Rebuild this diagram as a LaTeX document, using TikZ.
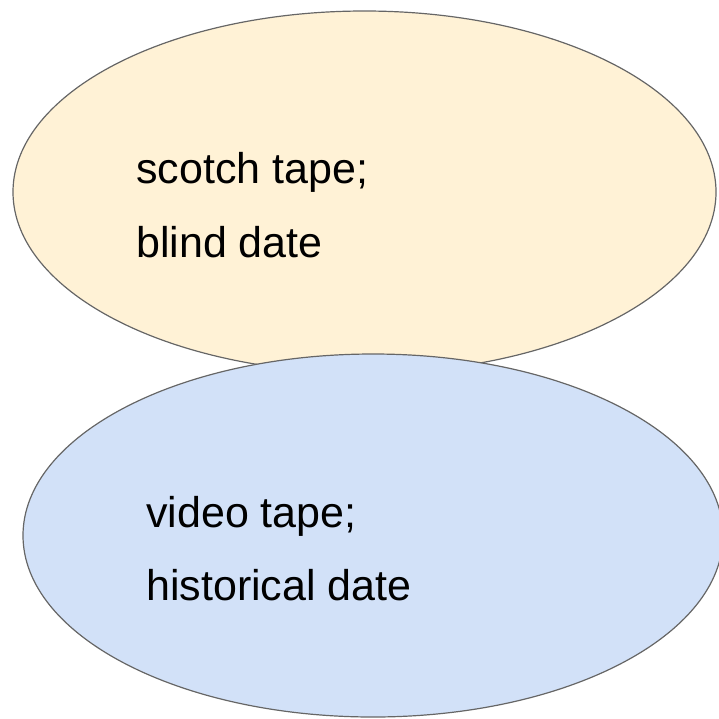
\documentclass[tikz,border=0pt]{standalone}
\usepackage{fontspec}
\setmainfont{Liberation Sans}
\usepackage{tikz}

\begin{document}
\begin{tikzpicture}[x=1pt,y=-1pt]
    \useasboundingbox (0,0) rectangle (719,718);
    % the two word sets
    \filldraw[fill={rgb,255:red,255;green,242;blue,214}, draw={rgb,255:red,102;green,102;blue,102}, line width=1.2pt]
        (364.5,192) ellipse (351.5 and 181);
    \filldraw[fill={rgb,255:red,210;green,225;blue,248}, draw={rgb,255:red,102;green,102;blue,102}, line width=1.2pt]
        (373,535.5) ellipse (350 and 181.5);
    \node[anchor=base west, inner sep=0pt, font=\fontsize{43}{50}\selectfont] (tape1) at (136,183) {scotch tape;};
    \node[anchor=base west, inner sep=0pt, font=\fontsize{43}{50}\selectfont] (date1) at (136,257) {blind date};
    \node[anchor=base west, inner sep=0pt, font=\fontsize{43}{50}\selectfont] (tape2) at (146,527) {video tape;};
    \node[anchor=base west, inner sep=0pt, font=\fontsize{43}{50}\selectfont] (date2) at (146,600) {historical date};
\end{tikzpicture}
\end{document}
